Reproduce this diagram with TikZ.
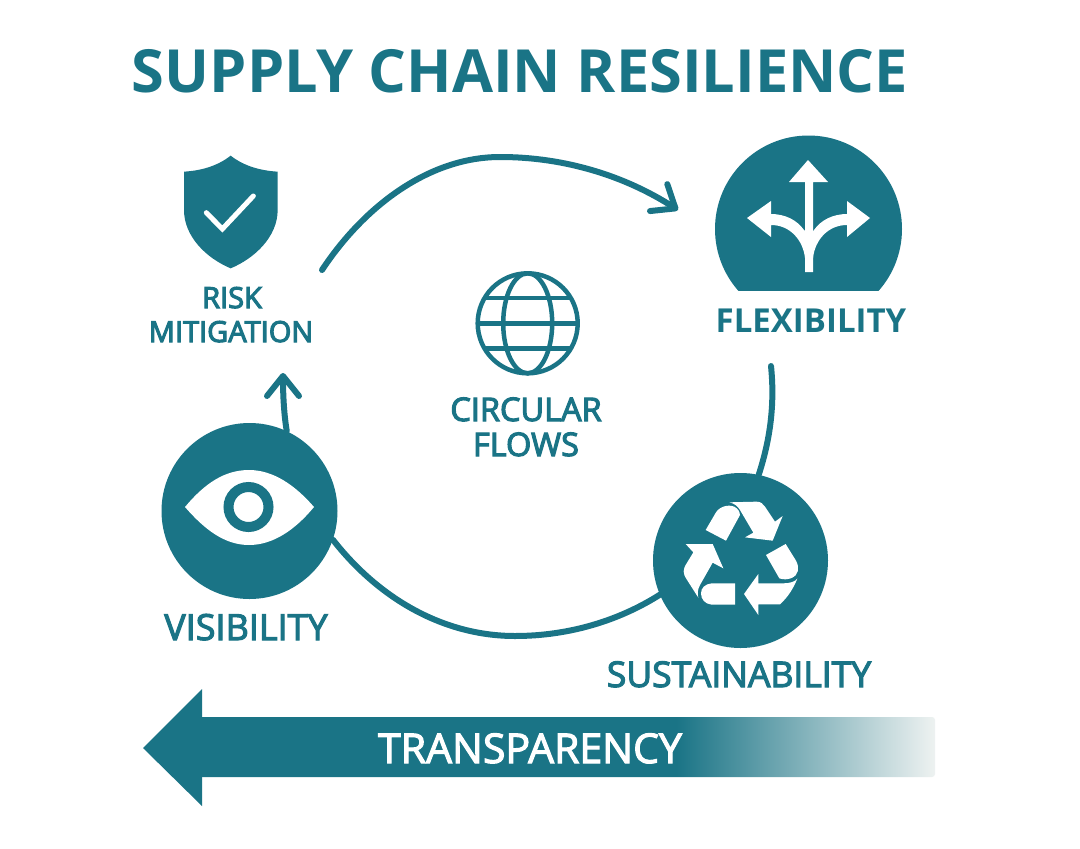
\documentclass[tikz,border=0pt]{standalone}
\usepackage{fontspec}
\setmainfont{Open Sans}
\newcommand{\stk}[1]{\special{pdf:code 2 Tr 1.1 w}#1\special{pdf:code 0 Tr 1 w}}
\usetikzlibrary{arrows.meta}
\definecolor{teal1}{HTML}{1A7486}
\definecolor{fade1}{HTML}{EEF2F1}
\pgfdeclarehorizontalshading{fadebar}{100bp}{color(0bp)=(teal1); color(57.5bp)=(teal1); color(75bp)=(fade1); color(100bp)=(fade1)}
\tikzset{
  disc/.style={circle,fill=teal1,inner sep=0pt,minimum size=#1},
  flowline/.style={draw=teal1,line width=6pt,line cap=round},
  flowhead/.style={flowline,-{Straight Barb[length=20pt,width=32pt,round]}},
  lab/.style={anchor=base,text=teal1,inner sep=0pt},
}
\begin{document}
\begin{tikzpicture}[x=1pt,y=-1pt]
\useasboundingbox (0,0) rectangle (1080,849);
\fill[white] (0,0) rectangle (1080,849);
% title
\node[lab] (title) at (520,92) {\fontsize{59.5}{59.5}\selectfont\bfseries SUPPLY CHAIN RESILIENCE};
% discs placed first so connectors can use their anchors
\path (249.5,511) node[disc=176pt,fill=none] (vis) {};
\path (740.5,560.5) node[disc=175pt,fill=none] (sus) {};
\coordinate (a1s) at (322,270);
\coordinate (a1m) at (500,157);
\coordinate (a1e) at (678,210);
\coordinate (a2s) at (771,366);
\coordinate (a3m) at (515,636);
\coordinate (a4e) at (283,373);
% connectors
\draw[flowhead] (a1s) .. controls (365,205) and (430,157) .. (a1m) .. controls (565,157) and (625,176) .. (a1e);
\draw[flowline] (a2s) .. controls (775,405) and (770,440) .. (sus.78);
\draw[flowline] (sus.203) .. controls (620,620) and (570,636) .. (a3m) .. controls (445,636) and (380,600) .. (vis.-19);
\draw[flowhead] (vis.65) .. controls (284,415) and (283,395) .. (a4e);
% shield
\begin{scope}[shift={(140,130)},scale=1/3]
\fill[teal1] (272,77) .. controls (230,110) and (180,122) .. (132,125) -- (132,240) .. controls (132,320) and (200,385) .. (272,415) .. controls (344,385) and (413,320) .. (413,240) -- (413,125) .. controls (365,122) and (314,110) .. (272,77) -- cycle;
\draw[white,line width=5pt,line cap=round] (199,248) -- (247,297) -- (340,198);
\end{scope}
% flexibility
\begin{scope}
\clip (700,120) rectangle (920,290);
\node[disc=187pt] (flex) at (808.5,229) {};
\end{scope}
\fill[white] (808,160) -- (828,182) -- (813,182) -- (813,272) -- (805,272) -- (805,182) -- (789,182) -- cycle;
\fill[white] (771,201) -- (747,218) -- (771,237) -- (771,225) .. controls (790,225) and (803,240) .. (805,258) -- (806,258) -- (806,232) -- (804,230) .. controls (797,220) and (785,214) .. (771,214) -- cycle;
\fill[white] (847,201) -- (870,218) -- (847,237) -- (847,225) .. controls (828,225) and (815,240) .. (813,258) -- (812,258) -- (812,232) -- (814,230) .. controls (821,220) and (833,214) .. (847,214) -- cycle;
% globe
\node[circle,draw=teal1,line width=4.5pt,inner sep=0pt,minimum size=100pt] (globe) at (527.7,323.3) {};
\begin{scope}[teal1,line width=4.5pt]
\draw (527.7,323.3) ellipse [x radius=24.5,y radius=50];
\draw (480,323.3) -- (575.5,323.3);
\draw (485,298) -- (570.5,298);
\draw (485,348.5) -- (570.5,348.5);
\end{scope}
% visibility
\node[disc=176pt] at (vis) {};
\fill[white] (185,507) .. controls (205,483) and (225,470) .. (249,470) .. controls (273,470) and (295,485) .. (314,507) .. controls (295,530) and (273,545) .. (249,545) .. controls (225,545) and (205,530) .. (185,507) -- cycle;
\node[circle,draw=teal1,line width=10pt,fill=white,inner sep=0pt,minimum size=40pt] (iris) at (248.5,507) {};
% sustainability
\node[disc=175pt] at (sus) {};
\begin{scope}[shift={(640,460)},scale=1/3]
\fill[white] (268,127) -- (350,125) .. controls (362,125) and (370,132) .. (375,140) -- (405,185) -- (428,168) -- (398,242) -- (315,232) -- (340,218) -- (300,150) .. controls (293,138) and (282,130) .. (268,127) -- cycle;
\fill[white] (197,210) -- (228,157) .. controls (240,137) and (275,130) .. (290,145) .. controls (298,152) and (300,160) .. (300,165) -- (258,242) -- cycle;
\fill[white] (378,285) -- (437,252) -- (468,302) .. controls (480,325) and (475,345) .. (455,354) .. controls (445,358) and (430,360) .. (418,355) -- cycle;
\fill[white] (472,356) .. controls (460,385) and (445,410) .. (420,433) -- (355,433) -- (355,465) -- (312,402) -- (355,342) -- (355,370) -- (430,370) .. controls (450,370) and (465,365) .. (472,356) -- cycle;
\fill[white] (285,370) -- (285,434) -- (215,434) .. controls (195,432) and (183,418) .. (183,400) .. controls (183,384) and (195,372) .. (215,370) -- cycle;
\fill[white] (137,252) -- (218,252) -- (250,325) -- (218,308) -- (180,375) .. controls (172,390) and (172,402) .. (175,413) -- (140,358) .. controls (128,340) and (128,328) .. (140,310) -- (160,277) -- cycle;
\end{scope}
% bottom arrow
\shade[shading=fadebar,rounded corners=3pt] (196,717) rectangle (935,777);
\fill[teal1] (143,748) -- (202,689) -- (202,806) -- cycle;
% labels
\node[lab] (risk) at (232,308) {\fontsize{29}{29}\selectfont\stk{RISK}};
\node[lab] (mit) at (231,342) {\fontsize{29}{29}\selectfont\stk{MITIGATION}};
\node[lab] (flexl) at (811,332) {\fontsize{33}{33}\selectfont\bfseries FLEXIBILITY};
\node[lab] (circ) at (526,421) {\fontsize{32.5}{32.5}\selectfont\stk{CIRCULAR}};
\node[lab] (flows) at (526,456) {\fontsize{32.5}{32.5}\selectfont\stk{FLOWS}};
\node[lab] (visl) at (246,640) {\fontsize{36}{36}\selectfont\stk{VISIBILITY}};
\node[lab] (susl) at (739,687) {\fontsize{35.5}{35.5}\selectfont\stk{SUSTAINABILITY}};
\node[lab,text=white] (trans) at (530,763) {\fontsize{41}{41}\selectfont\stk{TRANSPARENCY}};
\end{tikzpicture}
\end{document}
